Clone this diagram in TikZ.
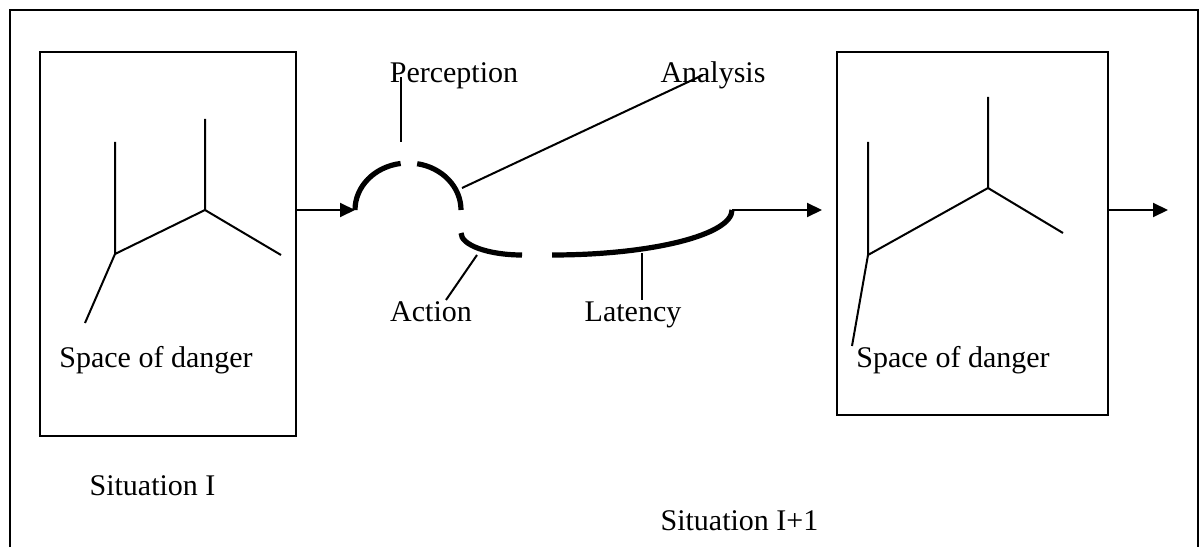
\documentclass[tikz,border=0pt]{standalone}
\usepackage{fontspec}
\setmainfont{Liberation Serif}
\usetikzlibrary{arrows.meta}
\begin{document}
\begin{tikzpicture}[x=0.5pt,y=0.5pt,
  thin/.style={line width=1pt},
  thick/.style={line width=2.6pt},
  arr/.style={line width=1pt,-{Triangle[length=7.5pt,width=7pt]}},
  box/.style={draw,line width=1pt,rectangle,inner sep=0pt},
  lbl/.style={font=\fontsize{15pt}{18pt}\selectfont,anchor=base,inner sep=0pt}]
\useasboundingbox (0,0) rectangle (1204,547);
% outer frame (open at bottom)
\draw[thin] (10,0) -- (10,537) -- (1198,537) -- (1198,0);
% boxes
\node[box,minimum width=128pt,minimum height=192pt] (box1) at (168,303) {};
\node[box,minimum width=135.5pt,minimum height=181.5pt] (box2) at (972.5,313.5) {};
% tree in box 1
\coordinate (a1) at (115,293);
\coordinate (a2) at (205,337);
\draw[thin] (115,405) -- (a1) -- (a2) -- (205,428);
\draw[thin] (a2) -- (281,292);
\draw[thin] (a1) -- (85,224);
\node[lbl] (sd1) at (156,180) {Space of danger};
% tree in box 2
\coordinate (b1) at (868,292);
\coordinate (b2) at (988,359);
\draw[thin] (868,405) -- (b1) -- (b2) -- (988,450);
\draw[thin] (b2) -- (1063,314);
\draw[thin] (b1) -- (852,201);
\node[lbl] (sd2) at (953,180) {Space of danger};
% cycle
\coordinate (pstart) at (355,337);
\coordinate (pend) at (461,337);
\draw[thick] (pstart) arc[start angle=180,end angle=98,x radius=53,y radius=47];
\draw[thick] (417.2,383.3) arc[start angle=80,end angle=0,x radius=53,y radius=47];
\coordinate (lstart) at (461,314);
\draw[thick] (lstart) arc[start angle=180,end angle=270,x radius=61,y radius=22];
\coordinate (lend) at (732,337);
\draw[thick] (552,292) arc[start angle=270,end angle=360,x radius=180,y radius=45];
% arrows
\draw[arr] (box1.east |- pstart) -- (pstart);
\coordinate (in2) at (822,337);
\draw[arr] (lend) -- (in2);
\coordinate (out2) at (1168,337);
\draw[arr] (box2.east |- out2) -- (out2);
% labels and leaders
\node[lbl] (perc) at (454,464) {Perception};
\node[lbl] (anal) at (713,464) {Analysis};
\node[lbl] (act) at (431,226) {Action};
\node[lbl] (lat) at (633,226) {Latency};
\coordinate (pl1) at (401,405);
\coordinate (pl2) at (401,470);
\draw[thin] (pl1) -- (pl2);
\coordinate (al1) at (462,359);
\coordinate (al2) at (703,472);
\draw[thin] (al1) -- (al2);
\coordinate (ac1) at (477,292);
\coordinate (ac2) at (446,247);
\draw[thin] (ac1) -- (ac2);
\coordinate (lt1) at (642,294);
\coordinate (lt2) at (642,247);
\draw[thin] (lt1) -- (lt2);
% situation labels
\node[lbl] (s1) at (152.5,52) {Situation I};
\node[lbl] (s2) at (739.5,17) {Situation I+1};
\end{tikzpicture}
\end{document}
